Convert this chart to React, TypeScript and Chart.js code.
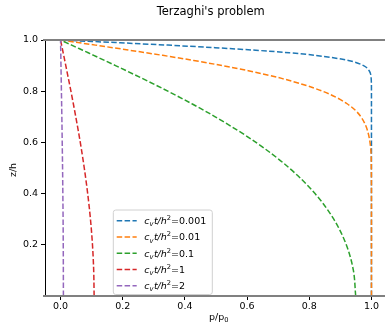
import React, { useEffect, useRef } from "react";
import { Chart, registerables } from "chart.js";

Chart.register(...registerables);

// depth coordinate z/h shared by all curves
const zValues = [0, 0.1, 0.2, 0.3, 0.4, 0.5, 0.6, 0.7, 0.75, 0.8, 0.85, 0.88, 0.9, 0.92, 0.94, 0.95, 0.96, 0.97, 0.98, 0.99, 0.995, 1.0];

// p/p0 read for each time factor
const pT0001 = [1, 1, 1, 1, 1, 1, 1, 1, 1, 1, 0.9991, 0.9927, 0.9746, 0.9257, 0.8192, 0.7361, 0.6279, 0.4968, 0.3448, 0.1765, 0.0889, 0];
const pT001 = [1, 1, 1, 1, 1, 0.9996, 0.9953, 0.9661, 0.9229, 0.8427, 0.7112, 0.6039, 0.5205, 0.4284, 0.3286, 0.2763, 0.2227, 0.168, 0.1125, 0.0564, 0.0282, 0];
const pT01 = [0.9493, 0.9419, 0.9191, 0.8788, 0.8185, 0.7357, 0.6286, 0.4975, 0.4238, 0.3452, 0.2627, 0.2115, 0.1769, 0.142, 0.1067, 0.089, 0.0713, 0.0535, 0.0357, 0.0178, 0.0089, 0];
const pT1 = [0.108, 0.1066, 0.1027, 0.0962, 0.0873, 0.0763, 0.0635, 0.049, 0.0413, 0.0334, 0.0252, 0.0202, 0.0169, 0.0135, 0.0102, 0.0085, 0.0068, 0.0051, 0.0034, 0.0017, 0.0008, 0];
const pT2 = [0.0092, 0.009, 0.0087, 0.0082, 0.0074, 0.0065, 0.0054, 0.0042, 0.0035, 0.0028, 0.0021, 0.0017, 0.0014, 0.0011, 0.0009, 0.0007, 0.0006, 0.0004, 0.0003, 0.0001, 0.0001, 0];

const timeLabels = ["0.001", "0.01", "0.1", "1", "2"];
const colors = ["#1f77b4", "#ff7f0e", "#2ca02c", "#d62728", "#9467bd"];
const xTicks = [0, 0.2, 0.4, 0.6, 0.8, 1.0];
const yTicks = [0.2, 0.4, 0.6, 0.8, 1.0];
const titleText = "Terzaghi's problem";

const W = 400;
const H = 325;
const FONT = '"DejaVu Sans", sans-serif';
const DASH = [5.5, 2.4];

export default function App() {
  const ref = useRef<HTMLCanvasElement>(null);

  useEffect(() => {
    document.body.style.overflow = "hidden";
    const canvas = ref.current!;
    const series = [pT0001, pT001, pT01, pT1, pT2];
    const datasets = series.map((arr, i) => ({
      label: "cvt/h2=" + timeLabels[i],
      data: arr.map((p, k) => ({ x: p, y: zValues[k] })),
      borderColor: colors[i],
      backgroundColor: colors[i],
      borderWidth: 1.5,
      borderDash: DASH,
      pointRadius: 0,
      fill: false,
      cubicInterpolationMode: "monotone" as const,
      order: series.length - 1 - i,
    }));

    const overlay = {
      id: "overlay",
      afterDatasetsDraw(chart: any) {
        const ctx = chart.ctx as CanvasRenderingContext2D;
        const a = chart.chartArea;
        const ys = chart.scales.y;
        ctx.save();
        ctx.strokeStyle = "#808080";
        ctx.lineWidth = 2.2;
        for (const v of [0, 1]) {
          const py = ys.getPixelForValue(v);
          ctx.beginPath();
          ctx.moveTo(a.left - 2, py);
          ctx.lineTo(a.right, py);
          ctx.stroke();
        }
        ctx.restore();
      },
      afterDraw(chart: any) {
        const ctx = chart.ctx as CanvasRenderingContext2D;
        ctx.save();
        ctx.fillStyle = "#000";
        // title
        ctx.font = `11.5px ${FONT}`;
        ctx.textAlign = "center";
        ctx.textBaseline = "middle";
        ctx.fillText(titleText, 210.7, 12);

        // x label p/p0
        ctx.textAlign = "left";
        ctx.textBaseline = "alphabetic";
        ctx.font = `9.5px ${FONT}`;
        const main = "p/p";
        const wMain = ctx.measureText(main).width;
        ctx.font = `6.7px ${FONT}`;
        const wSub = ctx.measureText("0").width;
        const xl = 218.7 - (wMain + wSub) / 2;
        ctx.font = `9.5px ${FONT}`;
        ctx.fillText(main, xl, 320);
        ctx.font = `6.7px ${FONT}`;
        ctx.fillText("0", xl + wMain, 322);

        // y label
        ctx.save();
        ctx.translate(14, 170);
        ctx.rotate(-Math.PI / 2);
        ctx.font = `9.5px ${FONT}`;
        ctx.textAlign = "center";
        ctx.textBaseline = "middle";
        ctx.fillText("z/h", 0, 0);
        ctx.restore();

        // legend
        const bx = 113.3, by = 210, bw = 99, bh = 84.5, r = 2.5;
        ctx.beginPath();
        ctx.moveTo(bx + r, by);
        ctx.lineTo(bx + bw - r, by);
        ctx.quadraticCurveTo(bx + bw, by, bx + bw, by + r);
        ctx.lineTo(bx + bw, by + bh - r);
        ctx.quadraticCurveTo(bx + bw, by + bh, bx + bw - r, by + bh);
        ctx.lineTo(bx + r, by + bh);
        ctx.quadraticCurveTo(bx, by + bh, bx, by + bh - r);
        ctx.lineTo(bx, by + r);
        ctx.quadraticCurveTo(bx, by, bx + r, by);
        ctx.closePath();
        ctx.fillStyle = "rgba(255,255,255,0.8)";
        ctx.fill();
        ctx.strokeStyle = "#d0d0d0";
        ctx.lineWidth = 1;
        ctx.stroke();

        timeLabels.forEach((lab, i) => {
          const cy = 220.7 + i * 16.25;
          ctx.save();
          ctx.strokeStyle = colors[i];
          ctx.lineWidth = 1.5;
          ctx.setLineDash(DASH);
          ctx.beginPath();
          ctx.moveTo(116.7, cy);
          ctx.lineTo(136.7, cy);
          ctx.stroke();
          ctx.restore();

          const base = cy + 3.4;
          let x = 144.3;
          ctx.fillStyle = "#000";
          ctx.textAlign = "left";
          ctx.textBaseline = "alphabetic";
          const segs: [string, string, number, number][] = [
            ["c", "italic", 9.5, 0],
            ["v", "italic", 6.7, 2.2],
            ["t/h", "italic", 9.5, 0],
            ["2", "normal", 6.7, -4],
            ["=" + lab, "normal", 9.5, 0],
          ];
          for (const [t, st, sz, dy] of segs) {
            ctx.font = `${st} ${sz}px ${FONT}`;
            ctx.fillText(t, x, base + dy);
            x += ctx.measureText(t).width + (st === "italic" && sz < 9 ? 0.4 : 0);
          }
        });
        ctx.restore();
      },
    };

    const tickFont = { family: FONT, size: 9.5 };
    const chart = new Chart(canvas, {
      type: "line",
      data: { datasets: datasets as any },
      options: {
        indexAxis: "y",
        responsive: false,
        animation: false,
        devicePixelRatio: 1,
        layout: { padding: { top: 40, right: 13, left: 0, bottom: 0 } },
        plugins: {
          legend: { display: false },
          tooltip: { enabled: false },
          title: { display: false },
        },
        scales: {
          x: {
            type: "linear",
            min: -0.05,
            max: 1.05,
            afterBuildTicks: (s: any) => {
              s.ticks = xTicks.map((v) => ({ value: v }));
            },
            afterFit: (s: any) => {
              s.height = 29;
            },
            ticks: {
              font: tickFont,
              color: "#000",
              padding: 1,
              maxRotation: 0,
              autoSkip: false,
              callback: (v: any) => Number(v).toFixed(1),
            },
            grid: { drawOnChartArea: false, drawTicks: true, tickLength: 4, color: "#000", lineWidth: 1 },
            border: { display: true, color: "#000", width: 1 },
          },
          y: {
            type: "linear",
            min: 0,
            max: 1,
            afterBuildTicks: (s: any) => {
              s.ticks = yTicks.map((v) => ({ value: v }));
            },
            afterFit: (s: any) => {
              s.width = 45;
            },
            ticks: {
              font: tickFont,
              color: "#000",
              padding: 3,
              autoSkip: false,
              callback: (v: any) => Number(v).toFixed(1),
            },
            grid: { drawOnChartArea: false, drawTicks: true, tickLength: 4, color: "#000", lineWidth: 1 },
            border: { display: true, color: "#000", width: 1 },
          },
        },
      } as any,
      plugins: [overlay],
    });
    return () => chart.destroy();
  }, []);

  return (
    <div style={{ position: "fixed", left: 0, top: 0, width: W, height: H }}>
      <canvas ref={ref} width={W} height={H} style={{ display: "block", width: W, height: H }} />
    </div>
  );
}
